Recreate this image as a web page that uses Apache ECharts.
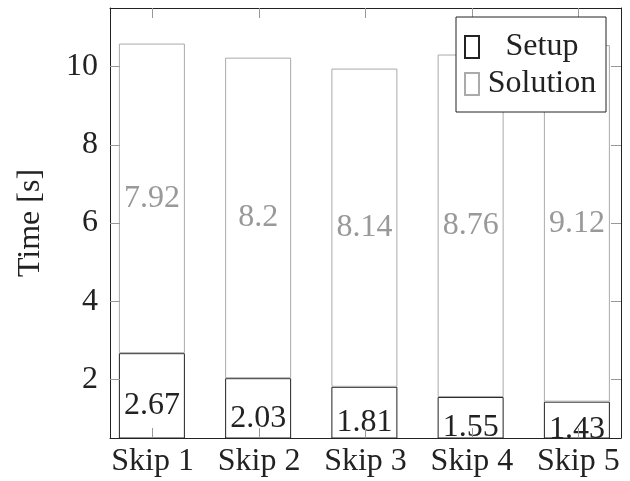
<!DOCTYPE html>
<html>
<head>
<meta charset="utf-8">
<script src="https://cdn.jsdelivr.net/npm/echarts@6/dist/echarts.min.js"></script>
<style>html,body{margin:0;padding:0;background:#fff;}#c{width:630px;height:481px;}</style>
</head>
<body>
<div id="c"></div>
<script>
const categories = ['Skip 1', 'Skip 2', 'Skip 3', 'Skip 4', 'Skip 5'];
const setupValues = [2.67, 2.03, 1.81, 1.55, 1.43];
const solutionValues = [7.92, 8.2, 8.14, 8.76, 9.12];
const yTicks = [2, 4, 6, 8, 10];
const seriesNames = ['Setup', 'Solution'];

const FONT = 'Liberation Serif';
const FS = 32;
const positions = categories.map((c, i) => i + 1);
const Y_MIN = 0.5, Y_MAX = 11.5, X_MIN = 0.6, X_MAX = 5.4;

const chart = echarts.init(document.getElementById('c'), null, {renderer: 'canvas'});
const tickStyle = {color: '#999', width: 1};
const lineStyle = {color: '#222', width: 1};
const option = {
  animation: false,
  backgroundColor: '#fff',
  grid: [
    {left: 110, right: 9, top: 8, bottom: 43},
    {left: 98.75, right: -1.25, top: 8, bottom: 43}
  ],
  legend: {
    orient: 'vertical', left: 456, top: 17, z: 10,
    backgroundColor: '#fff', borderColor: '#222', borderWidth: 1,
    padding: [14, 6, 12, 8], itemGap: 5, itemWidth: 14, itemHeight: 22,
    icon: 'rect',
    formatter: '{c|{name}}',
    textStyle: {rich: {c: {width: 116, align: 'center', fontSize: FS, fontFamily: FONT, color: '#222', lineHeight: 34}}},
    data: seriesNames
  },
  xAxis: [{
    gridIndex: 0, type: 'value', min: X_MIN, max: X_MAX, z: 5,
    axisLine: {show: true, lineStyle: lineStyle},
    axisTick: {show: true, inside: true, length: 10, lineStyle: tickStyle, customValues: positions},
    axisLabel: {customValues: positions, formatter: v => categories[Math.round(v) - 1] || '', fontSize: FS, fontFamily: FONT, color: '#222', margin: 8},
    splitLine: {show: false}
  }, {
    gridIndex: 0, type: 'value', min: X_MIN, max: X_MAX, position: 'top', z: 5,
    axisLine: {show: true, lineStyle: lineStyle},
    axisTick: {show: true, inside: true, length: 10, lineStyle: tickStyle, customValues: positions},
    axisLabel: {show: false}, splitLine: {show: false}
  }, {
    gridIndex: 1, type: 'category', data: categories, show: false
  }],
  yAxis: [{
    gridIndex: 0, type: 'value', min: Y_MIN, max: Y_MAX, z: 5,
    name: 'Time [s]', nameLocation: 'middle', nameGap: 63, nameRotate: 90,
    nameTextStyle: {fontSize: FS, fontFamily: FONT, color: '#222'},
    axisLine: {show: true, lineStyle: lineStyle},
    axisTick: {show: true, inside: true, length: 10, lineStyle: tickStyle, customValues: yTicks},
    axisLabel: {customValues: yTicks, fontSize: FS, fontFamily: FONT, color: '#222', margin: 12},
    splitLine: {show: false}
  }, {
    gridIndex: 0, type: 'value', min: Y_MIN, max: Y_MAX, position: 'right', z: 5,
    axisLine: {show: true, lineStyle: lineStyle},
    axisTick: {show: true, inside: true, length: 10, lineStyle: tickStyle, customValues: yTicks},
    axisLabel: {show: false}, splitLine: {show: false}
  }, {
    gridIndex: 1, type: 'value', min: Y_MIN, max: Y_MAX, show: false
  }],
  series: [{
    name: seriesNames[0], type: 'bar', stack: 'total', barWidth: 66,
    xAxisIndex: 2, yAxisIndex: 2,
    itemStyle: {color: '#fff', borderColor: '#222', borderWidth: 1},
    label: {show: true, position: 'inside', offset: [0, 10], fontSize: FS, fontFamily: FONT, color: '#222'},
    data: setupValues
  }, {
    name: seriesNames[1], type: 'bar', stack: 'total', barWidth: 66,
    xAxisIndex: 2, yAxisIndex: 2,
    itemStyle: {color: '#fff', borderColor: '#aaa', borderWidth: 1},
    label: {show: true, position: 'inside', fontSize: FS, fontFamily: FONT, color: '#999'},
    data: solutionValues
  }]
};
chart.setOption(option);
// white mask below the plot so labels overflowing the axis are clipped like the original
const yb = chart.convertToPixel({yAxisIndex: 0}, Y_MIN);
const xl = chart.convertToPixel({xAxisIndex: 0}, X_MIN);
const xr = chart.convertToPixel({xAxisIndex: 0}, X_MAX);
chart.setOption({graphic: [{type: 'rect', z: 100, shape: {x: xl + 1, y: yb + 1, width: xr - xl - 2, height: 6}, style: {fill: '#fff'}}]});
</script>
</body>
</html>
